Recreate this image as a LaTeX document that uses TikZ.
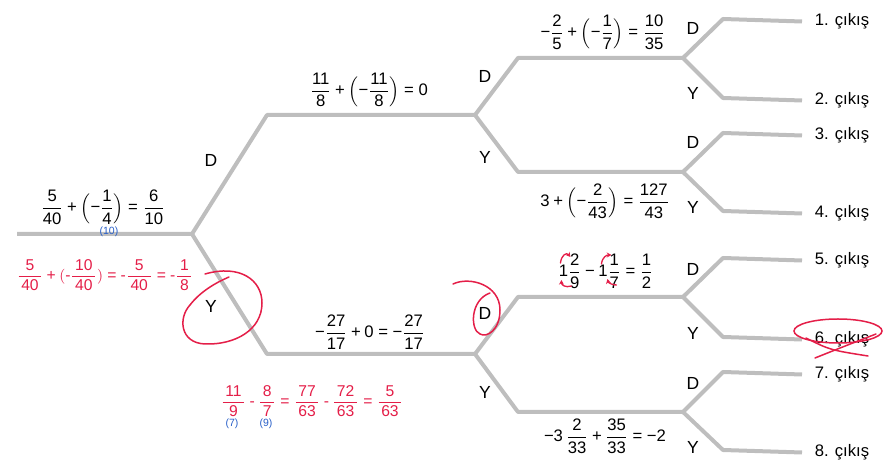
\documentclass[tikz,border=0pt]{standalone}
\usepackage{amsmath}
\usepackage{fontspec}
\setmainfont{Liberation Sans}
\usetikzlibrary{arrows.meta}
\definecolor{treegray}{RGB}{190,190,190}
\definecolor{markred}{RGB}{228,30,72}
\definecolor{markblue}{RGB}{40,95,200}
% numbers and signs set in the text font
\newcommand\frc[2]{\dfrac{\text{#1}}{\text{#2}}}
\newcommand\rfrc[2]{\dfrac{\,\text{#1}\,}{\,\text{#2}\,}}
\newcommand\nb[1]{\text{#1}}
\newcommand\opplus{\mathbin{\text{+}}}
\newcommand\opeq{\mathrel{\text{=}}}
\newcommand\opminus{\mathbin{\text{−}}}
\newcommand\opdash{\mathbin{\text{-}}}

\begin{document}
\begin{tikzpicture}[
        x=0.6pt, y=-0.6pt,
        branch/.style = {draw=treegray, line width=2.4pt, line join=round},
        branchlbl/.style = {font=\fontsize{10.5}{12}\selectfont, inner sep=0pt},
        eqn/.style = {font=\fontsize{10}{12}\selectfont, inner sep=0pt},
        outlbl/.style = {anchor=west, inner xsep=7.5pt, yshift=-1.5pt, font=\fontsize{10}{12}\selectfont},
        redeqn/.style = {text=markred, font=\fontsize{9.4}{10}\selectfont, inner sep=0pt},
        bluenote/.style = {text=markblue, font=\fontsize{6.3}{7}\selectfont, inner sep=0pt},
        redpen/.style = {draw=markred, line width=0.9pt, line cap=round},
        >={Stealth[length=2.8pt, width=3pt]}]
    \useasboundingbox (0,0) rectangle (895,463);

    % fork points of the tree
    \coordinate (in) at (17,234);
    \coordinate (f0) at (192,234);
    \coordinate (a1) at (267,115);
    \coordinate (f1) at (475,115);
    \coordinate (a2) at (267,354);
    \coordinate (f2) at (475,354);
    \coordinate (b1) at (518,58);
    \coordinate (g1) at (683,58);
    \coordinate (b2) at (518,172);
    \coordinate (g2) at (683,172);
    \coordinate (b3) at (518,297);
    \coordinate (g3) at (683,297);
    \coordinate (b4) at (518,412);
    \coordinate (g4) at (683,412);
    \coordinate (c1) at (723,19);
    \coordinate (c2) at (723,98);
    \coordinate (c3) at (723,133);
    \coordinate (c4) at (723,211);
    \coordinate (c5) at (723,258);
    \coordinate (c6) at (723,337);
    \coordinate (c7) at (723,372);
    \coordinate (c8) at (723,450);

    % outputs
    \node[outlbl] (out1) at (802,19) {1. çıkış};
    \node[outlbl] (out2) at (802,98) {2. çıkış};
    \node[outlbl] (out3) at (802,133) {3. çıkış};
    \node[outlbl] (out4) at (802,211) {4. çıkış};
    \node[outlbl] (out5) at (802,258) {5. çıkış};
    \node[outlbl] (out6) at (802,337) {6. çıkış};
    \node[outlbl] (out7) at (802,372) {7. çıkış};
    \node[outlbl] (out8) at (802,450) {8. çıkış};

    % branches
    \draw[branch] (in) -- (f0) -- (a1) -- (f1);
    \draw[branch] (f0) -- (a2) -- (f2);
    \draw[branch] (f1) -- (b1) -- (g1);
    \draw[branch] (f1) -- (b2) -- (g2);
    \draw[branch] (f2) -- (b3) -- (g3);
    \draw[branch] (f2) -- (b4) -- (g4);
    \draw[branch] (g1) -- (c1) -- (out1.west);
    \draw[branch] (g1) -- (c2) -- (out2.west);
    \draw[branch] (g2) -- (c3) -- (out3.west);
    \draw[branch] (g2) -- (c4) -- (out4.west);
    \draw[branch] (g3) -- (c5) -- (out5.west);
    \draw[branch] (g3) -- (c6) -- (out6.west);
    \draw[branch] (g4) -- (c7) -- (out7.west);
    \draw[branch] (g4) -- (c8) -- (out8.west);

    % D / Y labels
    \node[branchlbl] (d1) at (211,160) {D};
    \node[branchlbl] (y1) at (211,306) {Y};
    \node[branchlbl] (d2) at (485,76) {D};
    \node[branchlbl] (y2) at (485,157) {Y};
    \node[branchlbl] (d3) at (485,313) {D};
    \node[branchlbl] (y3) at (485,392) {Y};
    \node[branchlbl] (d4) at (693,28) {D};
    \node[branchlbl] (y4) at (693,93) {Y};
    \node[branchlbl] (d5) at (693,142) {D};
    \node[branchlbl] (y5) at (693,207) {Y};
    \node[branchlbl] (d6) at (693,269) {D};
    \node[branchlbl] (y6) at (693,333) {Y};
    \node[branchlbl] (d7) at (693,383) {D};
    \node[branchlbl] (y7) at (693,447) {Y};

    % sums on the branches
    \node[eqn] (eqA) at (103,207) {$\frc{5}{40}\opplus\Bigl(\opminus\frc{1}{4}\Bigr)\opeq\frc{6}{10}$};
    \node[eqn] (eqB) at (369,90) {$\frc{11}{8}\opplus\Bigl(\opminus\frc{11}{8}\Bigr)\opeq\nb{0}$};
    \node[eqn] (eqC) at (370,332) {$\opminus\frc{27}{17}\opplus\nb{0}\opeq\opminus\frc{27}{17}$};
    \node[eqn] (eqD) at (603,32) {$\opminus\frc{2}{5}\opplus\Bigl(\opminus\frc{1}{7}\Bigr)\opeq\frc{10}{35}$};
    \node[eqn] (eqE) at (605,201) {$\nb{3}\opplus\Bigl(\opminus\frc{2}{43}\Bigr)\opeq\frc{127}{43}$};
    \node[eqn] (eqF) at (606,271) {$\nb{1}\frc{2}{9}\opminus\nb{1}\frc{1}{7}\opeq\frc{1}{2}$};
    \node[eqn] (eqG) at (605,436) {$\opminus\nb{3}\,\frc{2}{33}\opplus\frc{35}{33}\opeq\opminus\nb{2}$};

    % handwritten notes
    \node[bluenote] (nA) at (109,232) {(10)};
    \node[redeqn] (rA) at (105,275) {$\rfrc{5}{40}\opplus(\opdash\rfrc{10}{40})\opeq\opdash\rfrc{5}{40}\opeq\opdash\rfrc{1}{8}$};
    \node[redeqn] (rC) at (312,401) {$\rfrc{11}{9}\opdash\rfrc{8}{7}\opeq\rfrc{77}{63}\opdash\rfrc{72}{63}\opeq\rfrc{5}{63}$};
    \node[bluenote] (nC1) at (232,424) {(7)};
    \node[bluenote] (nC2) at (266,424) {(9)};

    % red marks
    \draw[redpen] (205,274) .. controls (240,264) and (262,280) .. (262,303)
        .. controls (262,330) and (235,345) .. (205,344)
        .. controls (180,343) and (178,318) .. (190,305)
        .. controls (200,292) and (215,283) .. (229,277);
    \draw[redpen] (453,284) .. controls (470,276) and (500,285) .. (500,310)
        .. controls (500,330) and (487,338) .. (480,334)
        .. controls (470,330) and (470,300) .. (490,293);
    \draw[redpen] (838,331) ellipse [x radius=44, y radius=12];
    \draw[redpen] (806,338) .. controls (830,350) .. (868,356);
    \draw[redpen] (815,358) .. controls (840,348) .. (876,334);
    \draw[redpen, line width=0.8pt, ->] ([shift={(2,-8)}]eqF.west) .. controls +(1,-8) and +(-4,-5) .. ([shift={(12,-14)}]eqF.west);
    \draw[redpen, line width=0.8pt, ->] ([shift={(13,15)}]eqF.west) .. controls +(-6,2) and +(0,5) .. ([shift={(3,9)}]eqF.west);
    \draw[redpen, line width=0.8pt, ->] ([shift={(43,-7)}]eqF.west) .. controls +(1,-7) and +(-5,0) .. ([shift={(53,-16)}]eqF.west);
    \draw[redpen, line width=0.8pt, ->] ([shift={(58,14)}]eqF.west) .. controls +(-4,0) and +(1,4) .. ([shift={(49,8)}]eqF.west);
\end{tikzpicture}
\end{document}
